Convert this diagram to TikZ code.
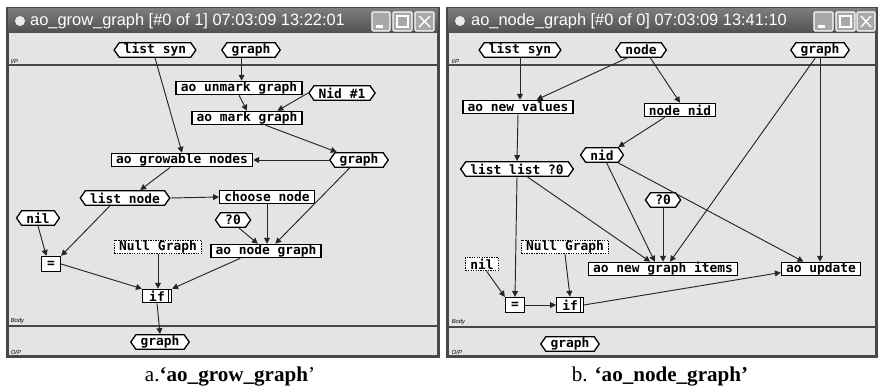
\documentclass[tikz,border=0pt]{standalone}
\usepackage{fontspec}
\setmainfont{Liberation Serif}
\setsansfont{Liberation Sans}
\setmonofont{DejaVu Sans Mono}
\usetikzlibrary{arrows.meta, shapes.symbols}
\definecolor{winface}{RGB}{228,228,228}
\definecolor{winframe}{RGB}{72,72,72}
\definecolor{titledark}{RGB}{80,80,80}
\definecolor{titlelight}{RGB}{125,125,125}
\definecolor{btnface}{RGB}{168,168,168}

\begin{document}
\begin{tikzpicture}[x=0.03cm, y=-0.03cm,
        box/.style={rectangle, draw=black, line width=1.1pt, fill=white, inner xsep=4pt, inner ysep=0pt, minimum height=0.4cm, font=\fontsize{11}{11}\selectfont\ttfamily\bfseries},
        hexa/.style={signal, signal to=west and east, signal pointer angle=110, draw=black, line width=1.1pt, fill=white, inner xsep=4pt, inner ysep=0pt, minimum height=0.44cm, font=\fontsize{11}{11}\selectfont\ttfamily\bfseries},
        dotbox/.style={box, densely dotted},
        arrow/.style={-{Triangle[length=5pt,width=5pt]}, line width=0.8pt, draw=black!85},
        lbl/.style={anchor=south west, inner sep=0.5pt, font=\fontsize{5}{5}\selectfont\sffamily\itshape},
        ttl/.style={anchor=west, inner sep=0pt, text=white, font=\fontsize{14}{14}\selectfont\sffamily},
        btn/.style={rounded corners=1pt, fill=btnface, draw=white, line width=0.9pt},
        captext/.style={inner sep=0pt, font=\fontsize{18}{18}\selectfont}
    ]
    \useasboundingbox (0,0) rectangle (879,391);
    \fill[white] (0,0) rectangle (879,391);

    % window a
    \fill[winframe] (6,7) rectangle (440,358);
    \shade[top color=titlelight, bottom color=titledark] (8,8) rectangle (438,33);
    \fill[winface] (9,33) rectangle (437,355);
    \fill[white!85!gray] (20,21) circle (5);
    \node[ttl] (ttla) at (30,21) {ao\_grow\_graph [\#0 of 1] 07:03:09 13:22:01};
    \draw[btn] (372,12) rectangle (390,31);
    \draw[btn] (393,12) rectangle (412,31);
    \draw[btn] (415,12) rectangle (434,31);
    \fill[white] (376,25) rectangle (383,28);
    \draw[white, line width=1pt] (397,16) rectangle (408,27);
    \draw[white, line width=1.2pt] (419,16) -- (430,27) (430,16) -- (419,27);
    \draw[line width=1.2pt, winframe] (9,65) -- (437,65);
    \draw[line width=1.2pt, winframe] (9,326) -- (437,326);
    \node[lbl] at (10,64) {I/P};
    \node[lbl] at (10,325) {Body};
    \node[lbl] at (10,355) {O/P};

    \node[hexa] (lsyn) at (155,50) {list syn};
    \node[hexa] (gtop) at (251,50) {graph};
    \node[box] (unmark) at (239,88) {ao unmark graph};
    \node[hexa] (nid1) at (342,93) {Nid \#1};
    \node[box] (mark) at (247,118) {ao mark graph};
    \node[hexa] (gmid) at (359,160) {graph};
    \node[box] (grow) at (182,160) {ao growable nodes};
    \node[hexa] (lnode) at (125,198) {list node};
    \node[box] (choose) at (267,197) {choose node};
    \node[hexa] (qa) at (233,220) {?0};
    \node[box] (agraph) at (266,251) {ao node graph};
    \node[dotbox] (nulla) at (158,247) {Null Graph};
    \node[hexa] (nila) at (38,218) {nil};
    \node[box, minimum width=0.57cm, minimum height=0.45cm] (eqa) at (51,264) {=};
    \node[box, minimum width=0.87cm] (ifa) at (157,296) {if};
    \draw[line width=0.8pt] ([xshift=-3pt]ifa.north east) -- ([xshift=-3pt]ifa.south east);
    \node[hexa] (gouta) at (160,342) {graph};

    \draw[arrow] (lsyn.south) -- (grow.north);
    \draw[arrow] ([xshift=-8pt]gtop.south) -- ([xshift=-8pt]gtop.south |- unmark.north);
    \draw[arrow] (unmark.south) -- (mark.north);
    \draw[arrow] (nid1.west) -- ([xshift=26pt]mark.north);
    \draw[arrow] ([xshift=16pt]mark.south) -- ([xshift=-19pt]gmid.north);
    \draw[arrow] (gmid.west) -- (grow.east);
    \draw[arrow] ([xshift=-10pt]grow.south) -- ([xshift=13pt]lnode.north);
    \draw[arrow] (lnode.east) -- (choose.west);
    \draw[arrow] (choose.south) -- (choose.south |- agraph.north);
    \draw[arrow] ([xshift=5pt]qa.south) -- ([xshift=-7pt]agraph.north);
    \draw[arrow] ([xshift=-8pt]gmid.south) -- ([xshift=8pt]agraph.north);
    \draw[arrow] ([xshift=-13pt]lnode.south) -- (eqa.north east);
    \draw[arrow] (nila.south) -- ([xshift=-4pt]eqa.north);
    \draw[arrow] (eqa.east) -- (ifa.north west);
    \draw[arrow] (nulla.south) -- (nulla.south |- ifa.north);
    \draw[arrow] ([xshift=-22pt]agraph.south) -- (ifa.north east);
    \draw[arrow] (ifa.south) -- (gouta.north);

    % window b
    \fill[winframe] (446,7) rectangle (878,358);
    \shade[top color=titlelight, bottom color=titledark] (448,8) rectangle (876,33);
    \fill[winface] (449,33) rectangle (875,355);
    \fill[white!85!gray] (460,21) circle (5);
    \node[ttl] (ttlb) at (471,21) {ao\_node\_graph [\#0 of 0] 07:03:09 13:41:10};
    \draw[btn] (814,12) rectangle (833,31);
    \draw[btn] (836,12) rectangle (855,31);
    \draw[btn] (857,12) rectangle (875,31);
    \fill[white] (818,25) rectangle (825,28);
    \draw[white, line width=1pt] (840,16) rectangle (851,27);
    \draw[white, line width=1.2pt] (861,16) -- (871,27) (871,16) -- (861,27);
    \draw[line width=1.2pt, winframe] (449,65) -- (875,65);
    \draw[line width=1.2pt, winframe] (449,327) -- (875,327);
    \node[lbl] at (451,64) {I/P};
    \node[lbl] at (451,326) {Body};
    \node[lbl] at (451,355) {O/P};

    \node[hexa] (rlsyn) at (520,50) {list syn};
    \node[hexa] (rnode) at (641,50) {node};
    \node[hexa] (rgraph) at (820,50) {graph};
    \node[box] (newv) at (518,107) {ao new values};
    \node[box] (nodenid) at (680,110) {node nid};
    \node[hexa] (nidb) at (602,155) {nid};
    \node[hexa] (llist) at (517,169) {list list ?0};
    \node[hexa] (qb) at (663,200) {?0};
    \node[box] (items) at (663,269) {ao new graph items};
    \node[box] (update) at (821,269) {ao update};
    \node[dotbox] (nullb) at (565,247) {Null Graph};
    \node[dotbox] (nilb) at (482,264) {nil};
    \node[box, minimum width=0.57cm, minimum height=0.45cm] (eqb) at (515,305) {=};
    \node[box, minimum width=0.8cm, minimum height=0.46cm] (ifb) at (570,305) {if};
    \draw[line width=0.8pt] ([xshift=-3pt]ifb.north east) -- ([xshift=-3pt]ifb.south east);
    \node[hexa] (goutb) at (570,344) {graph};

    \draw[arrow] (rlsyn.south) -- (rlsyn.south |- newv.north);
    \draw[arrow] ([xshift=-12pt]rnode.south) -- ([xshift=16pt]newv.north);
    \draw[arrow] ([xshift=8pt]rnode.south) -- (nodenid.north);
    \draw[arrow] ([xshift=-13pt]nodenid.south) -- ([xshift=14pt]nidb.north);
    \draw[arrow] (newv.south) -- (llist.north);
    \draw[arrow] (llist.south) -- (eqb.north);
    \draw[arrow] ([xshift=9pt]llist.south) -- ([xshift=-11pt]items.north);
    \draw[arrow] ([xshift=4pt]nidb.south) -- ([xshift=-7pt]items.north);
    \draw[arrow] ([xshift=14pt]nidb.south) -- ([xshift=-15pt]update.north);
    \draw[arrow] (qb.south) -- (qb.south |- items.north);
    \draw[arrow] ([xshift=-4pt]rgraph.south) -- ([xshift=6pt]items.north);
    \draw[arrow] (rgraph.south) -- (rgraph.south |- update.north);
    \draw[arrow] ([xshift=4pt]nilb.south) -- (eqb.north west);
    \draw[arrow] (nullb.south) -- (ifb.north);
    \draw[arrow] (eqb.east) -- (ifb.west);
    \draw[arrow, {Triangle[length=5pt,width=5pt]}-] ([yshift=-3pt]update.west) -- (ifb.east);

    % captions
    \node[captext] (capa) at (230,377) {a.\textbf{‘ao\_grow\_graph}’};
    \node[captext] (capb) at (660,377) {b. \textbf{‘ao\_node\_graph’}};
\end{tikzpicture}
\end{document}
